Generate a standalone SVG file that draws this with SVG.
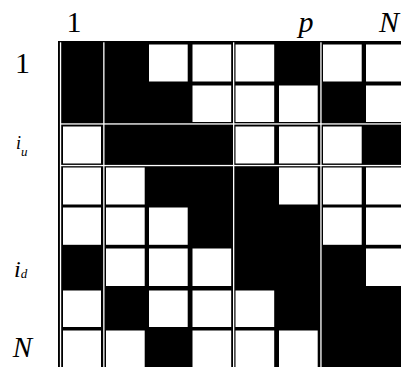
<svg xmlns="http://www.w3.org/2000/svg" width="401" height="367" viewBox="0 0 401 367">
<style>
.c{fill:#fff}
.l{fill:#fff}
text{font-family:'Liberation Serif','DejaVu Serif',serif;fill:#000}
.i{font-style:italic}
</style>
<rect width="401" height="367" fill="#fff"/>
<rect id="grid" x="58" y="41" width="343" height="326" fill="#000"/>
<g id="cells">
<g id="r1"><rect class="c" x="149" y="44.5" width="38.7" height="37"/><rect class="c" x="192.5" y="44.5" width="38.7" height="37"/><rect class="c" x="235.5" y="44.5" width="38.7" height="37"/><rect class="c" x="323" y="44.5" width="38.7" height="37"/><rect class="c" x="366" y="44.5" width="38.7" height="37"/></g>
<g id="r2"><rect class="c" x="192.5" y="85.5" width="38.7" height="36.5"/><rect class="c" x="235.5" y="85.5" width="38.7" height="36.5"/><rect class="c" x="279" y="85.5" width="38.7" height="36.5"/><rect class="c" x="366" y="85.5" width="38.7" height="36.5"/></g>
<g id="r3"><rect class="c" x="63" y="126.5" width="38" height="37"/><rect class="c" x="235.5" y="126.5" width="38.7" height="37"/><rect class="c" x="279" y="126.5" width="38.7" height="37"/><rect class="c" x="323" y="126.5" width="38.7" height="37"/></g>
<g id="r4"><rect class="c" x="63" y="167.5" width="38" height="37"/><rect class="c" x="106" y="167.5" width="38.7" height="37"/><rect class="c" x="279" y="167.5" width="38.7" height="37"/><rect class="c" x="323" y="167.5" width="38.7" height="37"/><rect class="c" x="366" y="167.5" width="38.7" height="37"/></g>
<g id="r5"><rect class="c" x="63" y="207.5" width="38" height="37.3"/><rect class="c" x="106" y="207.5" width="38.7" height="37.3"/><rect class="c" x="149" y="207.5" width="38.7" height="37.3"/><rect class="c" x="323" y="207.5" width="38.7" height="37.3"/><rect class="c" x="366" y="207.5" width="38.7" height="37.3"/></g>
<g id="r6"><rect class="c" x="106" y="248.5" width="38.7" height="37.5"/><rect class="c" x="149" y="248.5" width="38.7" height="37.5"/><rect class="c" x="192.5" y="248.5" width="38.7" height="37.5"/><rect class="c" x="366" y="248.5" width="38.7" height="37.5"/></g>
<g id="r7"><rect class="c" x="63" y="290.5" width="38" height="36.5"/><rect class="c" x="149" y="290.5" width="38.7" height="36.5"/><rect class="c" x="192.5" y="290.5" width="38.7" height="36.5"/><rect class="c" x="235.5" y="290.5" width="38.7" height="36.5"/></g>
<g id="r8"><rect class="c" x="63" y="330.5" width="38" height="40"/><rect class="c" x="106" y="330.5" width="38.7" height="40"/><rect class="c" x="192.5" y="330.5" width="38.7" height="40"/><rect class="c" x="235.5" y="330.5" width="38.7" height="40"/><rect class="c" x="279" y="330.5" width="38.7" height="40"/></g>
</g>
<g id="lines">
<rect class="l" x="59.9" y="42.3" width="1.3" height="325"/>
<rect class="l" x="103.2" y="42.3" width="1.3" height="325"/>
<rect class="l" x="233" y="42.3" width="1.3" height="325"/>
<rect class="l" x="320.3" y="42.3" width="1.3" height="325"/>
<rect class="l" x="60" y="123.3" width="341" height="1.3"/>
<rect class="l" x="60" y="164.9" width="341" height="1.3"/>
</g>
<g id="labels">
<text font-family="Liberation Serif, serif" x="74" y="32" font-size="30" text-anchor="middle">1</text>
<text font-family="Liberation Serif, serif" class="i" x="306" y="32" font-size="30" text-anchor="middle">p</text>
<text font-family="Liberation Serif, serif" class="i" x="389" y="32" font-size="30" text-anchor="middle">N</text>
<text font-family="Liberation Serif, serif" x="22.5" y="73" font-size="30" text-anchor="middle">1</text>
<text font-family="Liberation Serif, serif" class="i" x="16" y="149" font-size="18">i<tspan font-size="13" dy="7">u</tspan></text>
<text font-family="Liberation Serif, serif" class="i" x="14" y="276.5" font-size="24">i<tspan font-size="13" dy="1.5">d</tspan></text>
<text font-family="Liberation Serif, serif" class="i" x="22.5" y="357" font-size="29" text-anchor="middle">N</text>
</g>
</svg>
